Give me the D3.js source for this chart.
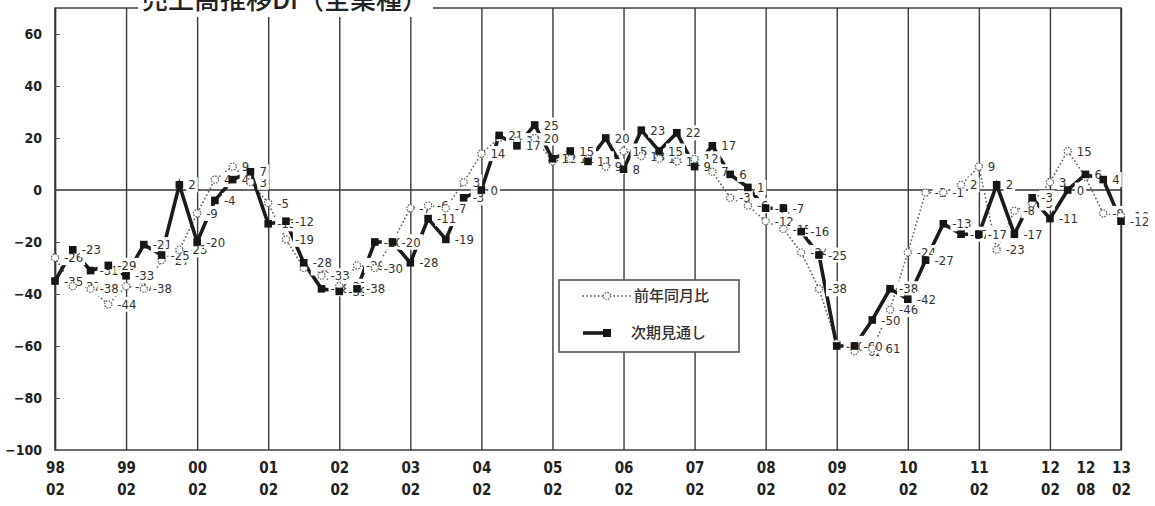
<!DOCTYPE html>
<html>
<head>
<meta charset="utf-8">
<script src="https://cdn.jsdelivr.net/npm/d3@7"></script>
<style>
  html, body { margin: 0; padding: 0; background: #fff; }
  svg { display: block; }
</style>
</head>
<body>
<svg id="chart" width="1155" height="506"></svg>
<script>
// Survey periods (quarterly, YY/MM)
const quarters = [
  "98/02","98/05","98/08","98/11","99/02","99/05","99/08","99/11",
  "00/02","00/05","00/08","00/11","01/02","01/05","01/08","01/11",
  "02/02","02/05","02/08","02/11","03/02","03/05","03/08","03/11",
  "04/02","04/05","04/08","04/11","05/02","05/05","05/08","05/11",
  "06/02","06/05","06/08","06/11","07/02","07/05","07/08","07/11",
  "08/02","08/05","08/08","08/11","09/02","09/05","09/08","09/11",
  "10/02","10/05","10/08","10/11","11/02","11/05","11/08","11/11",
  "12/02","12/05","12/08","12/11","13/02"
];

// 前年同月比 (year-on-year DI)
const yoy = [
  -26, -37, -38, -44, -37, -38, -27, -23,
   -9,   4,   9,   3,  -5, -19, -30, -33,
  -37, -29, -30, -20,  -7,  -6,  -7,   3,
   14,  20,  19,  20,  11,  12,  12,   9,
   15,  13,  12,  11,  12,   7,  -3,  -6,
  -12, -15, -24, -38, -59, -62, -61, -46,
  -24,  -1,  -1,   2,   9, -23,  -8,  -5,
    3,  15,   5,  -9, -10
];

// 次期見通し (outlook for next period)
const outlook = [
  -35, -23, -31, -29, -33, -21, -25,   2,
  -20,  -4,   4,   7, -13, -12, -28, -38,
  -39, -38, -20, -20, -28, -11, -19,  -3,
    0,  21,  17,  25,  12,  15,  11,  20,
    8,  23,  15,  22,   9,  17,   6,   1,
   -7,  -7, -16, -25, -60, -60, -50, -38,
  -42, -27, -13, -17, -17,   2, -17,  -3,
  -11,   0,   6,   4, -12
];

// Axis ticks
const xTickLabels = [
  "98/02","99/02","00/02","01/02","02/02","03/02","04/02","05/02",
  "06/02","07/02","08/02","09/02","10/02","11/02","12/02","12/08","13/02"
];
const yTicks = [60, 40, 20, 0, -20, -40, -60, -80, -100];

const seriesNames = ["前年同月比", "次期見通し"];
const titleText = "売上高推移DI（全業種）";

const numFont = "'Liberation Sans Narrow', 'DejaVu Sans Condensed', 'Liberation Sans', sans-serif";
const jpFont = "'Noto Sans CJK JP', 'Noto Sans', sans-serif";

const svg = d3.select("#chart");
const frame = { left: 55, right: 1121, top: 8, bottom: 450 };

const x = d3.scalePoint().domain(quarters).range([frame.left, frame.right]).padding(0);
const y = d3.scaleLinear().domain([-100, 70]).range([frame.bottom, frame.top]);

// Year gridlines (February of each year)
const gridTicks = xTickLabels.filter(d => d.endsWith("/02"));
svg.append("g")
  .attr("transform", `translate(0,${frame.bottom})`)
  .call(d3.axisBottom(x).tickValues(gridTicks).tickSize(-(frame.bottom - frame.top)).tickFormat(""))
  .call(g => g.select(".domain").remove())
  .call(g => g.selectAll(".tick line").attr("stroke", "#3a3a3a").attr("stroke-width", 1.4));

// Plot frame
svg.append("rect")
  .attr("x", frame.left).attr("y", frame.top)
  .attr("width", frame.right - frame.left).attr("height", frame.bottom - frame.top)
  .attr("fill", "none").attr("stroke", "#333").attr("stroke-width", 1.4);

// Zero line
svg.append("line")
  .attr("x1", frame.left).attr("x2", frame.right)
  .attr("y1", y(0)).attr("y2", y(0))
  .attr("stroke", "#333").attr("stroke-width", 1.6);

// Y axis
svg.append("g")
  .attr("transform", `translate(${frame.left},0)`)
  .call(d3.axisLeft(y).tickValues(yTicks).tickSizeInner(-5).tickSizeOuter(0).tickPadding(13))
  .call(g => g.select(".domain").attr("stroke", "#333").attr("stroke-width", 1.4))
  .call(g => g.selectAll(".tick line").attr("stroke", "#555").attr("stroke-width", 1))
  .call(g => g.selectAll(".tick text")
    .attr("font-family", numFont).attr("font-size", 14).attr("font-weight", "bold")
    .attr("fill", "#222"));

// X axis labels (two lines: year / month)
const xAxis = svg.append("g")
  .attr("transform", `translate(0,${frame.bottom})`)
  .call(d3.axisBottom(x).tickValues(xTickLabels).tickSize(0).tickFormat(""));
xAxis.select(".domain").remove();
xAxis.selectAll(".tick").each(function(d) {
  const parts = d.split("/");
  const t = d3.select(this).append("text")
    .attr("fill", "#222")
    .attr("font-family", numFont).attr("font-size", 15).attr("font-weight", "bold")
    .attr("text-anchor", "middle");
  t.append("tspan").attr("x", 0).attr("y", 23).text(parts[0]);
  t.append("tspan").attr("x", 0).attr("y", 45).text(parts[1]);
});

// Lines
const lineGen = d3.line().x((d, i) => x(quarters[i])).y(d => y(d));

svg.append("path")
  .datum(yoy)
  .attr("d", lineGen)
  .attr("fill", "none")
  .attr("stroke", "#6a6a6a")
  .attr("stroke-width", 1.8)
  .attr("stroke-dasharray", "0.1,3.8")
  .attr("stroke-linecap", "round");

svg.append("path")
  .datum(outlook)
  .attr("d", lineGen)
  .attr("fill", "none")
  .attr("stroke", "#1b1b1b")
  .attr("stroke-width", 3.6)
  .attr("stroke-linejoin", "miter");

// Data labels with opaque white boxes
function drawLabels(values) {
  const g = svg.append("g");
  values.forEach((v, i) => {
    const lg = g.append("g");
    const t = lg.append("text")
      .attr("x", x(quarters[i]) + 9)
      .attr("y", y(v) + 4.5)
      .attr("font-family", numFont)
      .attr("font-size", 13)
      .attr("fill", "#333")
      .text(String(v));
    const bb = t.node().getBBox();
    lg.insert("rect", "text")
      .attr("x", bb.x - 2).attr("y", bb.y)
      .attr("width", bb.width + 4).attr("height", bb.height)
      .attr("fill", "#fff");
  });
}
drawLabels(yoy);
drawLabels(outlook);

// Markers
svg.append("g").selectAll("circle")
  .data(yoy)
  .join("circle")
  .attr("cx", (d, i) => x(quarters[i]))
  .attr("cy", d => y(d))
  .attr("r", 3.6)
  .attr("fill", "#fff")
  .attr("stroke", "#666")
  .attr("stroke-width", 1.3)
  .attr("stroke-dasharray", "1.6,1.2");

svg.append("g").selectAll("rect")
  .data(outlook)
  .join("rect")
  .attr("x", (d, i) => x(quarters[i]) - 3.8)
  .attr("y", d => y(d) - 3.8)
  .attr("width", 7.6).attr("height", 7.6)
  .attr("fill", "#161616");

// Title sitting on the top border
svg.append("rect")
  .attr("x", 138).attr("y", 0).attr("width", 295).attr("height", 17)
  .attr("fill", "#fff");
svg.append("text")
  .attr("x", 285).attr("y", 9)
  .attr("text-anchor", "middle")
  .attr("font-family", jpFont)
  .attr("font-size", 26)
  .attr("font-weight", 500)
  .attr("fill", "#222")
  .text(titleText);

// Legend
const legend = svg.append("g");
legend.append("rect")
  .attr("x", 559).attr("y", 280).attr("width", 180).attr("height", 72)
  .attr("fill", "#fff").attr("stroke", "#555").attr("stroke-width", 1.6);

legend.append("line")
  .attr("x1", 583).attr("x2", 630).attr("y1", 296).attr("y2", 296)
  .attr("stroke", "#6a6a6a").attr("stroke-width", 1.8)
  .attr("stroke-dasharray", "0.1,3.8").attr("stroke-linecap", "round");
legend.append("circle")
  .attr("cx", 607).attr("cy", 296).attr("r", 3.6)
  .attr("fill", "#fff").attr("stroke", "#666").attr("stroke-width", 1.3)
  .attr("stroke-dasharray", "1.6,1.2");
legend.append("text")
  .attr("x", 634).attr("y", 301)
  .attr("font-family", jpFont).attr("font-size", 15).attr("font-weight", 500).attr("fill", "#333")
  .text(seriesNames[0]);

legend.append("line")
  .attr("x1", 583).attr("x2", 608).attr("y1", 333).attr("y2", 333)
  .attr("stroke", "#1b1b1b").attr("stroke-width", 3.6);
legend.append("rect")
  .attr("x", 603).attr("y", 329).attr("width", 8).attr("height", 8)
  .attr("fill", "#161616");
legend.append("text")
  .attr("x", 631).attr("y", 338)
  .attr("font-family", jpFont).attr("font-size", 15).attr("font-weight", 500).attr("fill", "#333")
  .text(seriesNames[1]);
</script>
</body>
</html>
